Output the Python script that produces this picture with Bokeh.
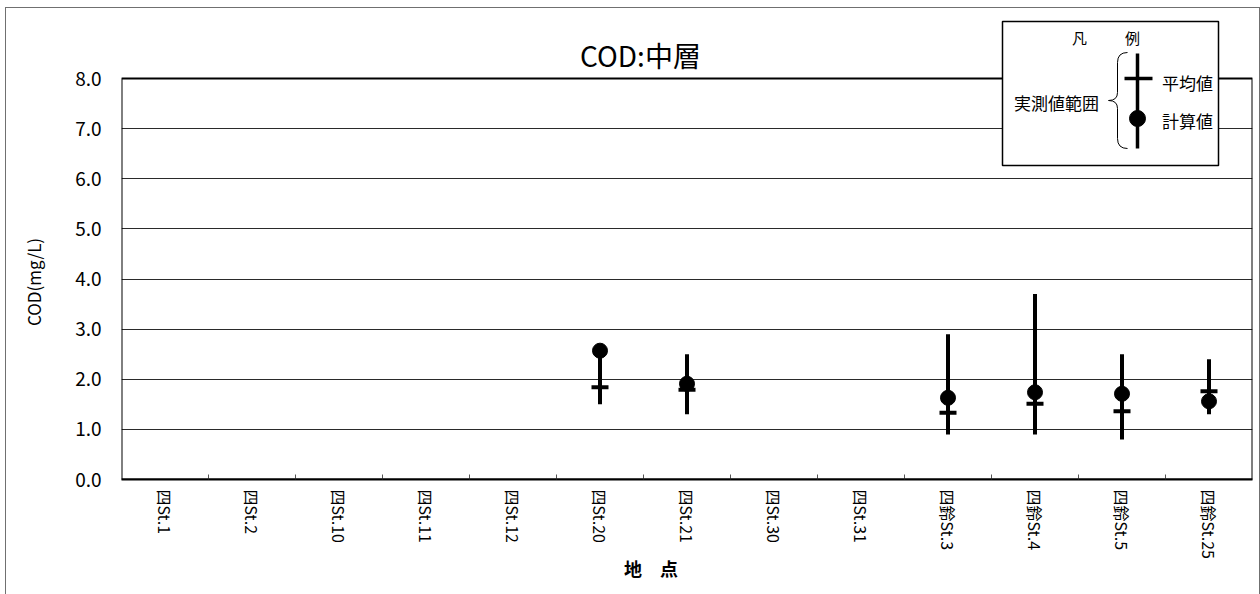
import numpy as np
from bokeh.plotting import figure
from bokeh.models import (ColumnDataSource, Range1d, FixedTicker, NumeralTickFormatter,
                          BoxAnnotation, Label)
from bokeh.embed import file_html
from bokeh.resources import INLINE

# ---------------- data ----------------
stations = ["四St.1", "四St.2", "四St.10", "四St.11", "四St.12", "四St.20", "四St.21",
            "四St.30", "四St.31", "四鈴St.3", "四鈴St.4", "四鈴St.5", "四鈴St.25"]
obs_max = [None, None, None, None, None, 2.50, 2.50, None, None, 2.90, 3.70, 2.50, 2.40]
obs_min = [None, None, None, None, None, 1.50, 1.30, None, None, 0.90, 0.90, 0.80, 1.30]
obs_mean = [None, None, None, None, None, 1.84, 1.79, None, None, 1.33, 1.51, 1.36, 1.76]
calc_val = [None, None, None, None, None, 2.57, 1.91, None, None, 1.63, 1.74, 1.71, 1.56]
y_ticks = [0, 1, 2, 3, 4, 5, 6, 7, 8]
grid_ticks = [1, 2, 3, 4, 5, 6, 7]

title_text = "COD:中層"
y_label = "COD(mg/L)"
x_label = "地　点"

FONT = "Noto Sans CJK JP"
PAD = "\u3000" * 4   # invisible padding so the axis titles sit where the original has them

# ---------------- layout (page pixels) ----------------
OX, OY = 6, 8                                 # figure's top-left on the page
W, H = 1253, 586
FL, FR, FT, FB = 121, 1252, 16, 479          # frame edges on the page
Y_TOP_VAL = 8.0
Y_TOP_PX = 78
Y_END = (FB - FT) / ((FB - Y_TOP_PX) / Y_TOP_VAL)
n = len(stations)


def px2x(px):
    return (px - FL) / (FR - FL) * n


def py2y(py):
    return (FB - py) / (FB - FT) * Y_END


p = figure(width=W, height=H, output_backend="svg", toolbar_location=None,
           title=None, x_range=Range1d(0, n), y_range=Range1d(0, Y_END),
           min_border_left=FL - OX, min_border_right=OX + W - FR,
           min_border_top=FT - OY, min_border_bottom=OY + H - FB)
p.outline_line_color = None
p.background_fill_color = "white"
p.border_fill_color = "white"
p.styles = {"margin-left": f"{OX}px", "margin-top": f"{OY}px",
            "outline": "1px solid #707070"}

xs = np.arange(n) + 0.5
src = ColumnDataSource(dict(
    x=xs,
    lo=np.array(obs_min, dtype=float),
    hi=np.array(obs_max, dtype=float),
    mean=np.array(obs_mean, dtype=float),
    calc=np.array(calc_val, dtype=float),
))

# grid
p.xgrid.visible = False
p.ygrid.ticker = FixedTicker(ticks=grid_ticks)
p.ygrid.grid_line_color = "#2a2a2a"
p.ygrid.grid_line_width = 1

# y axis
p.yaxis.ticker = FixedTicker(ticks=y_ticks)
p.yaxis.formatter = NumeralTickFormatter(format="0.0")
p.yaxis.axis_line_color = None
p.yaxis.major_tick_in = 0
p.yaxis.major_tick_out = 0
p.yaxis.minor_tick_in = 0
p.yaxis.minor_tick_out = 0
p.yaxis.major_label_standoff = 20
p.yaxis.major_label_text_font = FONT
p.yaxis.major_label_text_font_size = "19px"
p.yaxis.major_label_text_color = "black"
p.yaxis.axis_label = y_label + PAD
p.yaxis.axis_label_text_font = FONT
p.yaxis.axis_label_text_font_size = "17px"
p.yaxis.axis_label_text_font_style = "normal"
p.yaxis.axis_label_text_color = "black"
p.yaxis.axis_label_standoff = 26

# x axis
p.xaxis.ticker = FixedTicker(ticks=list(xs), minor_ticks=list(range(1, n)))
p.xaxis.major_label_overrides = {float(v): s for v, s in zip(xs, stations)}
p.xaxis.major_label_orientation = -np.pi / 2
p.xaxis.major_tick_in = 0
p.xaxis.major_tick_out = 0
p.xaxis.minor_tick_in = 5
p.xaxis.minor_tick_out = 0
p.xaxis.minor_tick_line_color = "#555555"
p.xaxis.axis_line_color = "black"
p.xaxis.axis_line_width = 2
p.xaxis.major_label_standoff = 10
p.xaxis.major_label_text_font = FONT
p.xaxis.major_label_text_font_size = "16px"
p.xaxis.major_label_text_color = "black"
p.xaxis.axis_label = x_label + PAD
p.xaxis.axis_label_text_font = FONT
p.xaxis.axis_label_text_font_size = "18px"
p.xaxis.axis_label_text_font_style = "bold"
p.xaxis.axis_label_text_color = "black"
p.xaxis.axis_label_standoff = -7

# data marks
p.segment(x0="x", y0="lo", x1="x", y1="hi", source=src, line_color="black", line_width=4)
p.scatter(x="x", y="calc", source=src, marker="circle", size=15,
          fill_color="black", line_color="black")
p.scatter(x="x", y="mean", source=src, marker="dash", size=17,
          line_color="black", line_width=4)

# plot-area frame
frame = BoxAnnotation(left=0, right=n, bottom=0, top=Y_TOP_VAL, fill_color=None,
                      line_color="black", line_alpha=1.0, line_width=2, level="annotation")
p.add_layout(frame)

# ---------------- legend (凡例) ----------------
p.quad(left=[px2x(1002)], right=[px2x(1218)], top=[py2y(21)], bottom=[py2y(165)],
       fill_color="white", line_color="black", line_width=1.5, level="overlay")
lx = px2x(1137)
p.segment(x0=[lx], y0=[py2y(148)], x1=[lx], y1=[py2y(53)], line_color="black",
          line_width=3.5, level="overlay")
p.segment(x0=[px2x(1124)], y0=[py2y(78)], x1=[px2x(1152)], y1=[py2y(78)],
          line_color="black", line_width=3.5, level="overlay")
p.scatter(x=[lx], y=[py2y(118)], marker="circle", size=16, fill_color="black",
          line_color="black", level="overlay")
# brace
bx_r, bx_m, bx_t = 1127, 1117, 1108
p.quadratic(x0=[px2x(bx_r), px2x(bx_m), px2x(bx_t), px2x(bx_m)],
            y0=[py2y(52), py2y(92), py2y(100), py2y(138)],
            x1=[px2x(bx_m), px2x(bx_t), px2x(bx_m), px2x(bx_r)],
            y1=[py2y(62), py2y(100), py2y(108), py2y(148)],
            cx=[px2x(bx_m), px2x(bx_m), px2x(bx_m), px2x(bx_m)],
            cy=[py2y(52), py2y(100), py2y(100), py2y(148)],
            line_color="black", line_width=1, level="overlay")
p.segment(x0=[px2x(bx_m), px2x(bx_m)], y0=[py2y(62), py2y(108)],
          x1=[px2x(bx_m), px2x(bx_m)], y1=[py2y(92), py2y(138)],
          line_color="black", line_width=1, level="overlay")


def add_label(text, px, py, size, bold=False, level="overlay"):
    p.add_layout(Label(x=px2x(px), y=py2y(py), text=text, text_font=FONT,
                       text_font_size=size, text_align="center", text_baseline="middle",
                       text_font_style="bold" if bold else "normal",
                       text_color="black", level=level))


add_label("凡", 1079, 37, "15px")
add_label("例", 1132, 37, "15px")
add_label("実測値範囲", 1056, 102, "17px")
add_label("平均値", 1187, 82, "17px")
add_label("計算値", 1187, 120, "17px")

# chart title
add_label(title_text, 640, 54, "28px", level="annotation")

open("out.html", "w").write(file_html(p, INLINE))
